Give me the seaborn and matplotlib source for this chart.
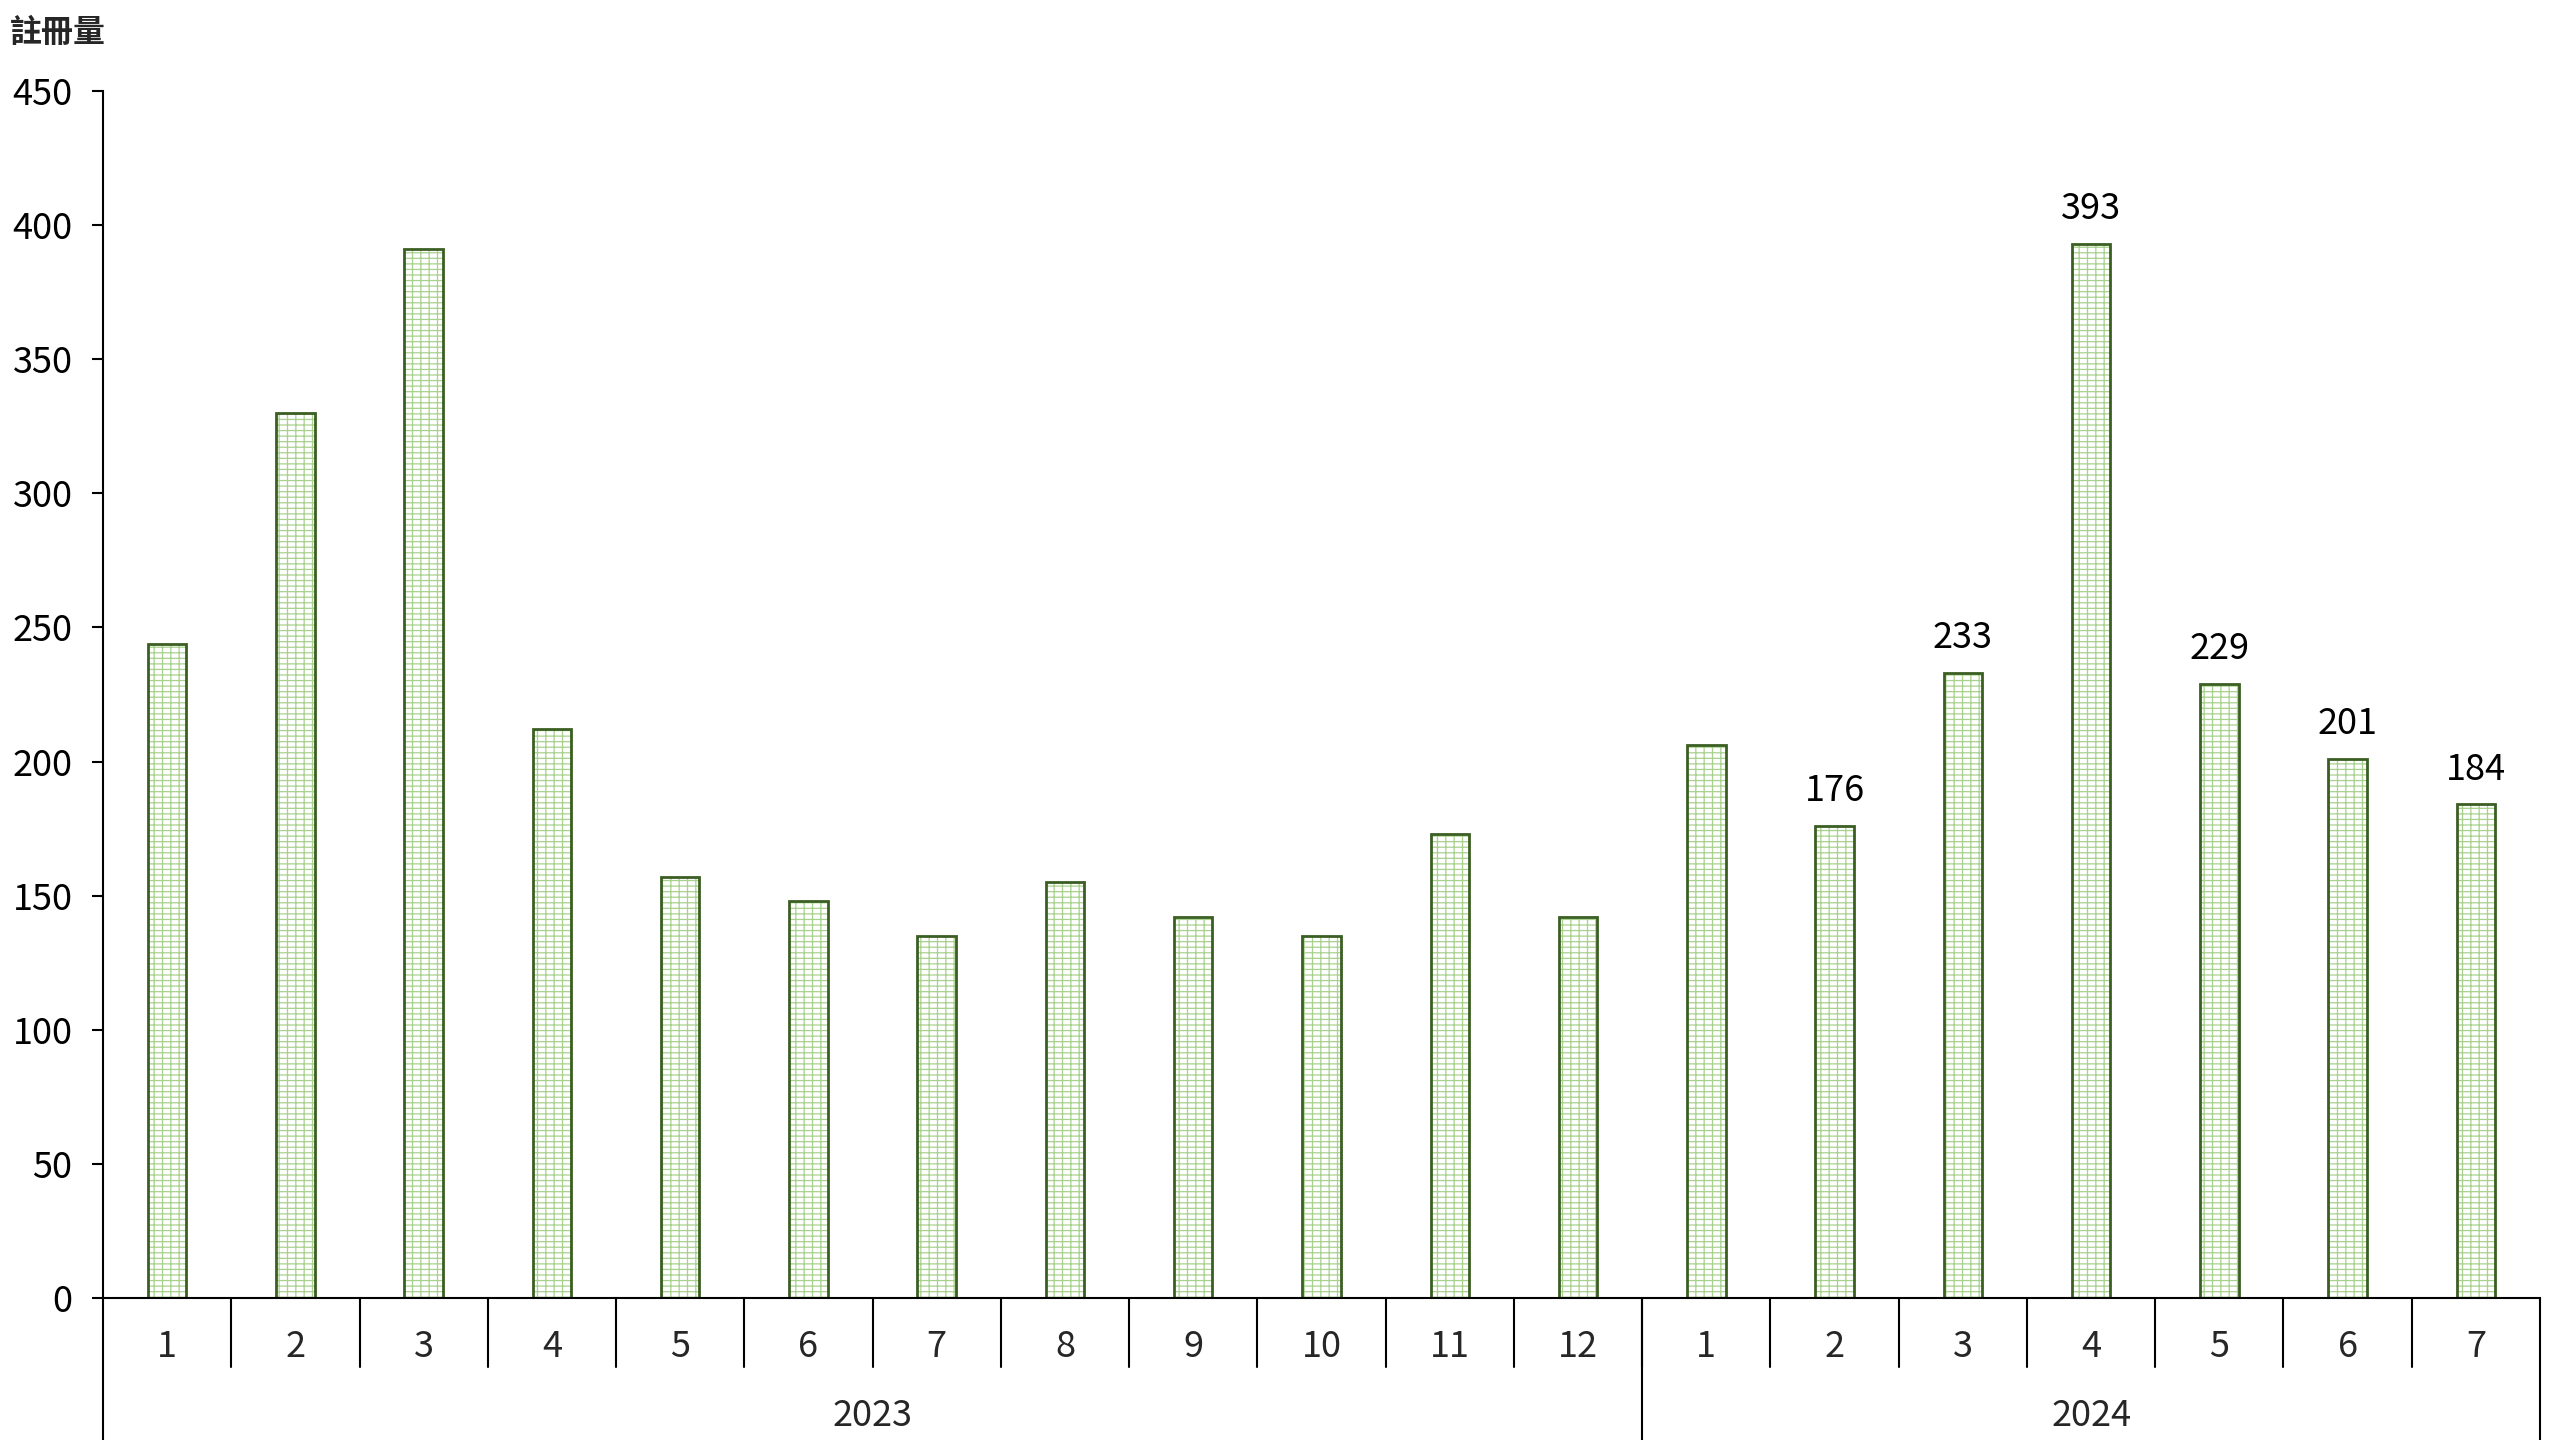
import matplotlib
matplotlib.use("Agg")
import matplotlib.pyplot as plt
import seaborn as sns
import pandas as pd

years = ["2023"] * 12 + ["2024"] * 7
months = ["1", "2", "3", "4", "5", "6", "7", "8", "9", "10", "11", "12",
          "1", "2", "3", "4", "5", "6", "7"]
values = [244, 330, 391, 212, 157, 148, 135, 155, 142, 135, 173, 142,
          206, 176, 233, 393, 229, 201, 184]
data_labels = ["", "", "", "", "", "", "", "", "", "", "", "",
               "", "176", "233", "393", "229", "201", "184"]
year_groups = ["2023", "2024"]
y_ticks = [0, 50, 100, 150, 200, 250, 300, 350, 400, 450]
y_title = "註冊量"

sns.set_theme(style="white")
plt.rcParams['font.family'] = ['Noto Sans CJK TC', 'DejaVu Sans']
plt.rcParams['hatch.linewidth'] = 0.9

df = pd.DataFrame({"key": [f"{y}-{m}" for y, m in zip(years, months)],
                   "value": values})

fig = plt.figure(figsize=(25.6, 14.4), dpi=100)
ax = fig.add_axes([103 / 2560, 142 / 1440, (2540 - 103) / 2560, 1207 / 1440])

hatch_green = "#a9d18e"
edge_green = "#3b5e22"

sns.barplot(data=df, x="key", y="value", ax=ax, width=0.3,
            color="white", edgecolor=hatch_green, linewidth=0,
            hatch="---||", saturation=1)
sns.barplot(data=df, x="key", y="value", ax=ax, width=0.3,
            fill=False, edgecolor=edge_green, linewidth=2.0)

ax.bar_label(ax.containers[0], labels=data_labels, padding=12,
             fontsize=26, color="black")

n = len(values)
ax.set_xlim(-0.5, n - 0.5)
ax.set_ylim(0, 450)
ax.set_yticks(y_ticks)
ax.set_yticklabels([str(t) for t in y_ticks], fontsize=26)
ax.tick_params(axis="y", direction="out", length=8, width=1.5, pad=14,
               left=True, colors="black")
ax.set_xticks([])
ax.set_xlabel("")
ax.set_ylabel("")
for s in ["top", "right"]:
    ax.spines[s].set_visible(False)
for s in ["left", "bottom"]:
    ax.spines[s].set_color("black")
    ax.spines[s].set_linewidth(1.5)

trans = ax.get_xaxis_transform()
month_sep_bottom = -0.057
full_bottom = -0.12
# month separators
for i in range(n - 1):
    x = i + 0.5
    ax.plot([x, x], [0, month_sep_bottom], transform=trans, color="black",
            lw=1.5, clip_on=False)
# month labels
for i, m in enumerate(months):
    ax.text(i, -0.041, m, transform=trans, ha="center", va="center",
            fontsize=26)
# year group boundaries
bounds = [-0.5]
cnt = 0
for g in year_groups:
    cnt += years.count(g)
    bounds.append(cnt - 0.5)
for b in bounds:
    ax.plot([b, b], [0, full_bottom], transform=trans, color="black",
            lw=1.5, clip_on=False)
for g, b0, b1 in zip(year_groups, bounds[:-1], bounds[1:]):
    ax.text((b0 + b1) / 2, -0.098, g, transform=trans, ha="center",
            va="center", fontsize=26)

fig.text(10 / 2560, 1 - 33 / 1440, y_title, ha="left", va="center",
         fontsize=23, fontweight="bold")

fig.savefig("out.png", dpi=100)
